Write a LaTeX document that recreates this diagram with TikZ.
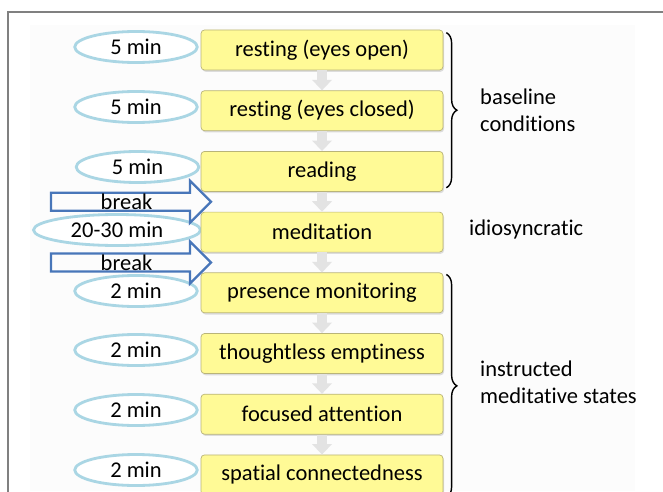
\documentclass[tikz,border=0pt]{standalone}
\usepackage{fontspec}
\setmainfont{Carlito}[Ligatures=NoCommon]
\usetikzlibrary{positioning,calc,shapes.geometric,shapes.arrows,shadows,arrows.meta,decorations.pathreplacing}

\definecolor{boxyellow}{RGB}{255,250,150}
\definecolor{boxedge}{RGB}{185,180,120}
\definecolor{ringblue}{RGB}{170,214,228}
\definecolor{breakblue}{RGB}{72,118,185}

\tikzset{
	stage/.style={draw=boxedge, fill=boxyellow, rounded corners=2pt, minimum width=4.84cm, minimum height=0.8cm, drop shadow={shadow xshift=0.6pt, shadow yshift=-1pt, opacity=0.25}, font=\fontsize{12.8}{14}\selectfont},
	dur/.style={ellipse, draw=ringblue, line width=1.6pt, fill=white, minimum width=2.45cm, minimum height=0.62cm, inner sep=0pt, font=\fontsize{12.8}{14}\selectfont},
	pause/.style={single arrow, draw=breakblue, line width=1.3pt, minimum height=3.2cm, minimum width=0.4cm, single arrow head extend=0.24cm, inner sep=0pt, font=\fontsize{12.8}{14}\selectfont},
	flow/.style={line width=6pt, draw=gray!22, -{Triangle[width=11pt,length=6pt]}},
	group/.style={decorate, decoration={brace, amplitude=6pt}, thick},
	note/.style={anchor=west, align=left, font=\fontsize{12.8}{15.3}\selectfont},
}

\begin{document}
\begin{tikzpicture}
	\clip (0,0) rectangle (13.26,-9.82);
	\useasboundingbox (0,0) rectangle (13.26,-9.82);
	\fill[black!1] (0.6,-0.5) rectangle (12.7,-9.82);
	\draw[gray, line width=0.9pt] (0.16,-10) -- (0.16,-0.24) -- (13.5,-0.24);

	% duration rings
	\node[dur] (d1) at (2.72,-0.94) {5 min};
	\node[dur] (d2) at (2.72,-2.14) {5 min};
	\node[dur] (d3) at (2.75,-3.34) {5 min};
	\node[dur, minimum width=3.34cm] (d4) at (2.34,-4.6) {20-30 min};
	\node[dur] (d5) at (2.72,-5.82) {2 min};
	\node[dur] (d6) at (2.72,-7.0) {2 min};
	\node[dur] (d7) at (2.72,-8.2) {2 min};
	\node[dur] (d8) at (2.72,-9.4) {2 min};

	% stages
	\node[stage] (rest1) at (6.44,-1.0) {resting (eyes open)};
	\node[stage, anchor=north, shift={(0,-0.4)}] (rest2) at (rest1.south) {resting (eyes closed)};
	\node[stage, anchor=north, shift={(0,-0.4)}] (read) at (rest2.south) {reading};
	\node[stage, anchor=north, shift={(0,-0.4)}] (medit) at (read.south) {meditation};
	\node[stage, anchor=north, shift={(0,-0.4)}] (pres) at (medit.south) {presence monitoring};
	\node[stage, anchor=north, shift={(0,-0.4)}] (empt) at (pres.south) {thoughtless emptiness};
	\node[stage, anchor=north, shift={(0,-0.4)}] (focus) at (empt.south) {focused attention};
	\node[stage, anchor=north, shift={(0,-0.4)}] (spat) at (focus.south) {spatial connectedness};

	\foreach \a/\b in {rest1/rest2, rest2/read, read/medit, medit/pres, pres/empt, empt/focus, focus/spat}
		\draw[flow] (\a.south) -- (\b.north);

	% breaks
	\node[pause, anchor=tip] (brk1) at ($(read.south west)!0.5!(medit.north west)+(0.24,0)$) {break};
	\node[pause, anchor=tip] (brk2) at ($(medit.south west)!0.5!(pres.north west)+(0.24,0)$) {break};

	% groups
	\draw[group] ($(rest1.north east)+(0.06,-0.06)$) -- ($(read.south east)+(0.06,0.08)$);
	\draw[group] ($(pres.north east)+(0.06,-0.04)$) -- ($(spat.south east)+(0.06,-0.04)$);

	\node[note] (base) at (9.48,-2.2) {baseline\\conditions};
	\node[note] (idio) at (9.26,-4.6) {idiosyncratic};
	\node[note] (instr) at (9.48,-7.64) {instructed\\meditative states};
\end{tikzpicture}
\end{document}
